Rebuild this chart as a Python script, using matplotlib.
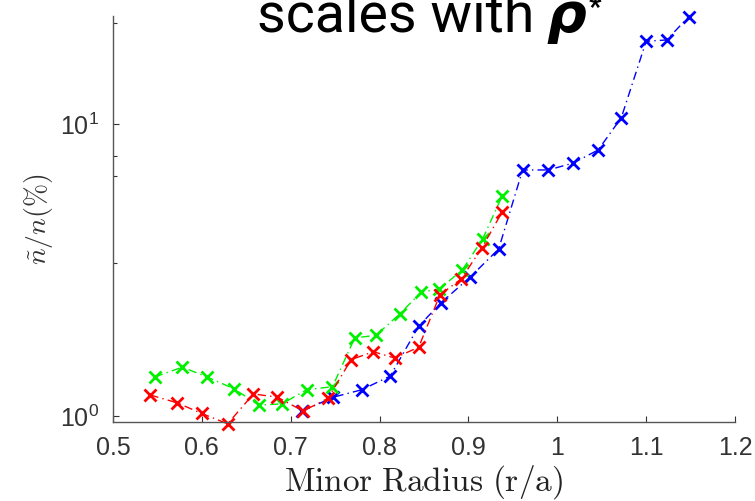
import matplotlib
matplotlib.use("Agg")
import matplotlib.pyplot as plt
from matplotlib.ticker import FixedLocator, FixedFormatter, NullFormatter

plt.rcParams['font.family'] = ['Liberation Sans', 'DejaVu Sans']
plt.rcParams['mathtext.fontset'] = 'cm'

# ---- data ----
green_x = [0.547, 0.578, 0.606, 0.636, 0.664, 0.690, 0.718, 0.747, 0.772, 0.796,
           0.823, 0.847, 0.867, 0.893, 0.916, 0.938]
green_y = [1.36, 1.47, 1.36, 1.24, 1.09, 1.10, 1.23, 1.26, 1.85, 1.89,
           2.24, 2.66, 2.72, 3.16, 4.04, 5.67]

red_x = [0.542, 0.572, 0.600, 0.629, 0.658, 0.685, 0.714, 0.742, 0.768, 0.793,
         0.817, 0.844, 0.868, 0.892, 0.915, 0.938]
red_y = [1.18, 1.11, 1.02, 0.94, 1.19, 1.16, 1.04, 1.15, 1.56, 1.66,
         1.58, 1.72, 2.60, 2.95, 3.76, 5.00]

blue_x = [0.713, 0.748, 0.780, 0.812, 0.844, 0.869, 0.902, 0.934, 0.961, 0.990,
          1.018, 1.046, 1.072, 1.100, 1.123, 1.148]
blue_y = [1.04, 1.16, 1.23, 1.37, 2.03, 2.44, 2.99, 3.73, 6.96, 6.96,
          7.35, 8.15, 10.5, 19.2, 19.4, 23.3]

x_ticks = [0.5, 0.6, 0.7, 0.8, 0.9, 1.0, 1.1, 1.2]
x_ticklabels = ['0.5', '0.6', '0.7', '0.8', '0.9', '1', '1.1', '1.2']
y_ticks = [1, 10]
y_ticklabels = [r'$\mathregular{10^{0}}$', r'$\mathregular{10^{1}}$']
y_minor_ticks = [3.34, 6.65, 7.79, 22.2]

W, H = 755, 501
fig = plt.figure(figsize=(W / 100, H / 100), dpi=100)
ax = fig.add_axes([113 / W, 79 / H, (735 - 113) / W, (422 - 16) / H])

dash = (0, (6, 3, 1, 3))
for xs, ys, c in [(blue_x, blue_y, '#0000ff'), (green_x, green_y, '#00f000'), (red_x, red_y, '#ff0000')]:
    ax.plot(xs, ys, linestyle=dash, color=c, lw=1.0, marker='x', ms=8, mew=2.0,
            clip_on=False)

ax.set_yscale('log')
ax.set_xlim(0.5, 1.2)
ax.set_ylim(10 ** (-6 / 292), 10 ** (400 / 292))

ax.xaxis.set_major_locator(FixedLocator(x_ticks))
ax.xaxis.set_major_formatter(FixedFormatter(x_ticklabels))
ax.yaxis.set_major_locator(FixedLocator(y_ticks))
ax.yaxis.set_major_formatter(FixedFormatter(y_ticklabels))
ax.yaxis.set_minor_locator(FixedLocator(y_minor_ticks))
ax.yaxis.set_minor_formatter(NullFormatter())

for s in ['top', 'right']:
    ax.spines[s].set_visible(False)
for s in ['left', 'bottom']:
    ax.spines[s].set_color('#555555')
    ax.spines[s].set_linewidth(1.0)

ax.tick_params(axis='both', which='both', direction='in', color='#333333',
               labelcolor='#333333', labelsize=18, width=0.8)
ax.tick_params(axis='both', which='major', length=4)
ax.tick_params(axis='y', which='minor', length=3)
ax.tick_params(axis='x', pad=10)
ax.tick_params(axis='y', pad=10)

# x-axis label placed explicitly so it sits low like in the reference
fig.text(424 / W, 1 - 491 / H, r'$\mathrm{Minor\ Radius\ (r/a)}$', fontsize=24,
         color='#222222', ha='center', va='baseline')
ax.set_ylabel(r'$\tilde{n}/n(\%)$', fontsize=20, color='#333333', labelpad=4)

# title-like text at top (cut by the top edge, as in the reference)
fig.text(257 / W, 1 - 32 / H, 'scales with', family=['Roboto', 'DejaVu Sans'],
         weight='normal', fontsize=40, ha='left', va='baseline', color='black')
fig.text(546 / W, 1 - 32 / H, 'ρ', family=['DejaVu Sans'], weight='bold', style='italic',
         fontsize=40, ha='left', va='baseline', color='black')
fig.text(589 / W, 1 - 16 / H, '*', family=['Roboto', 'DejaVu Sans'], weight='bold',
         fontsize=20, ha='left', va='baseline', color='black')

fig.savefig('out.png', dpi=100)
